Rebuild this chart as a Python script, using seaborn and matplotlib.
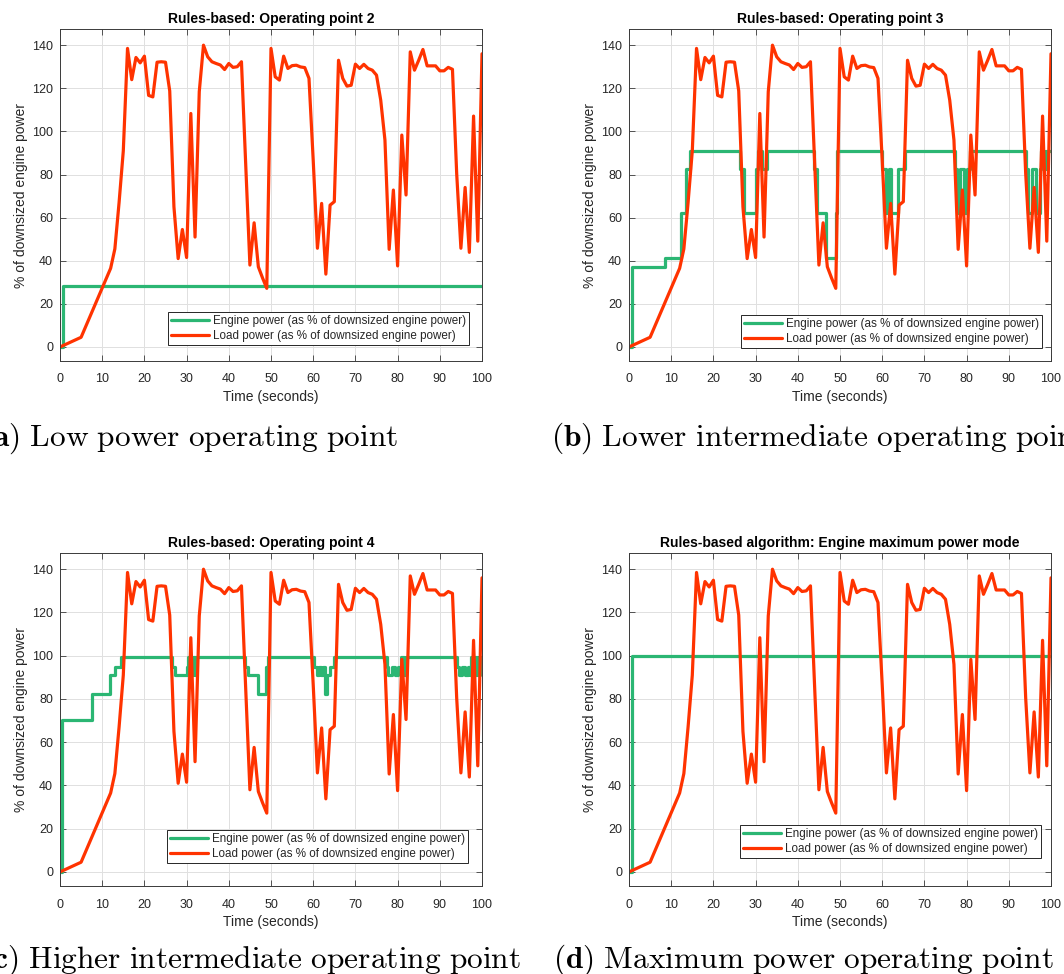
import matplotlib
matplotlib.use("Agg")
import matplotlib.pyplot as plt
import seaborn as sns
import pandas as pd

# ---------------- data ----------------
load_time = [0, 5, 12, 13, 14, 15, 16, 17, 18, 19, 20, 21, 22, 23, 24, 25, 26, 27, 28, 29,
             30, 31, 32, 33, 34, 35, 36, 37, 38, 39, 40, 41, 42, 43, 44, 45, 46, 47, 48, 49,
             50, 51, 52, 53, 54, 55, 56, 57, 58, 59, 60, 61, 62, 63, 64, 65, 66, 67, 68, 69,
             70, 71, 72, 73, 74, 75, 76, 77, 78, 79, 80, 81, 82, 83, 84, 85, 86, 87, 88, 89,
             90, 91, 92, 93, 94, 95, 96, 97, 98, 99, 100]
load_power = [0, 4.5, 36.5, 45.5, 67, 91, 138.5, 124, 134.3, 131.8, 134.9, 116.7, 116, 132.1,
              132.3, 132.1, 118.8, 65, 41, 54.5, 41.5, 108.3, 51, 118.4, 140, 134.6, 132.3,
              131.5, 130.8, 128.7, 131.5, 129.7, 130, 132.3, 85, 38, 57.6, 37.2, 32, 27.2,
              138.5, 125.3, 123.8, 134.9, 129.2, 130.5, 130.7, 129.9, 129.6, 124.6, 86.7,
              45.8, 66.6, 33.8, 65.8, 67.4, 133, 124.6, 121, 121.4, 131.2, 129.2, 131.1,
              129.2, 128.4, 126.1, 114.5, 96, 45.3, 72.8, 37.6, 98.3, 70.5, 136.9, 128.4,
              133, 138, 130.4, 130.4, 130.4, 128.1, 128.1, 129.7, 128.8, 80.5, 45.8, 74,
              43.9, 107.1, 49.1, 136]

# engine power: step change times and levels (steps-post)
eng2_time = [0, 0.7]
eng2_level = [0, 28.5]

eng3_time = [0, 0.7, 8.5, 12.3, 13.5, 14.5, 26.2, 27.2, 30.0, 30.6, 31.5, 32.6, 43.9, 44.6,
             46.8, 49.0, 49.4, 60.0, 60.8, 61.7, 62.1, 63.8, 65.3, 77.2, 77.7, 78.5, 79.5,
             80.2, 80.8, 94.1, 94.6, 95.6, 96.4, 97.3, 97.6, 98.3, 98.8]
eng3_level = [0, 37, 41.5, 62, 82.5, 91, 82.5, 62, 82.5, 91, 82.5, 91, 82.5, 62,
              41.5, 62, 91, 82.5, 62, 82.5, 62, 82.5, 91, 82.5, 62, 82.5, 62,
              82.5, 91, 82.5, 62, 82.5, 62, 82.5, 91, 82.5, 91]

eng4_time = [0, 0.55, 7.5, 11.85, 13.0, 14.4, 26.5, 27.2, 30.2, 30.4, 30.9, 31.4, 31.9, 32.3,
             43.8, 44.6, 47.0, 48.8, 49.2, 60.2, 60.8, 61.4, 61.85, 62.4, 62.8, 63.35, 64.0,
             65.0, 77.4, 77.8, 78.6, 79.3, 80.2, 80.8, 81.5, 82.1, 94.0, 94.6, 95.3, 95.9,
             96.6, 97.2, 97.5, 98.0, 98.5, 98.9, 99.5]
eng4_level = [0, 70.5, 82.5, 91, 95, 99.5, 95, 91, 95, 99.5, 91, 99.5, 91, 99.5,
              95, 91, 82.5, 95, 99.5, 95, 91, 95, 91, 95, 82.5, 91, 95,
              99.5, 95, 91, 95, 91, 95, 99.5, 91, 99.5, 95, 91, 95, 91,
              95, 91, 99.5, 91, 99.5, 91, 99.5]

engmax_time = [0, 0.7]
engmax_level = [0, 100]

titles = ["Rules-based: Operating point 2", "Rules-based: Operating point 3",
          "Rules-based: Operating point 4", "Rules-based algorithm: Engine maximum power mode"]
captions = [r"$\mathbf{(a)}\ \mathrm{Low\ power\ operating\ point}$",
            r"$\mathbf{(b)}\ \mathrm{Lower\ intermediate\ operating\ point}$",
            r"$\mathbf{(c)}\ \mathrm{Higher\ intermediate\ operating\ point}$",
            r"$\mathbf{(d)}\ \mathrm{Maximum\ power\ operating\ point}$"]
legend_labels = ["Engine power (as % of downsized engine power)",
                 "Load power (as % of downsized engine power)"]
xticks = [0, 10, 20, 30, 40, 50, 60, 70, 80, 90, 100]
yticks = [0, 20, 40, 60, 80, 100, 120, 140]

# ---------------- style ----------------
sns.set_theme(style="whitegrid")
plt.rcParams["font.family"] = ["Liberation Sans", "DejaVu Sans"]
plt.rcParams["mathtext.fontset"] = "cm"

GREEN = "#2bb673"
RED = "#ff3300"
TXT = "#262626"

W, H = 1064, 974
fig = plt.figure(figsize=(W / 100, H / 100), dpi=100)
fig.patch.set_facecolor("white")

axes_px = [(60, 29, 422, 332), (629, 29, 422, 332), (60, 553, 422, 333), (629, 553, 422, 333)]
legend_anchor = [(0.969, 0.048), (0.979, 0.039), (0.967, 0.069), (0.976, 0.084)]
engines = [(eng2_time, eng2_level), (eng3_time, eng3_level),
           (eng4_time, eng4_level), (engmax_time, engmax_level)]
caption_pos = [(-19, 446), (551, 446), (-19, 968), (553, 968)]

for i in range(4):
    l, t, w, h = axes_px[i]
    ax = fig.add_axes([l / W, 1 - (t + h) / H, w / W, h / H])
    ax.set_facecolor("white")
    et, el = engines[i]
    et_full = list(et) + [100]
    el_full = list(el) + [el[-1]]
    sns.lineplot(x=et_full, y=el_full, ax=ax, color=GREEN, lw=2.3, drawstyle="steps-post",
                 estimator=None, sort=False, label=legend_labels[0])
    sns.lineplot(x=load_time, y=load_power, ax=ax, color=RED, lw=2.3,
                 estimator=None, sort=False, label=legend_labels[1])
    ax.set_xlim(0, 100)
    ax.set_ylim(-6.5, 147.5)
    ax.set_xticks(xticks)
    ax.set_yticks(yticks)
    ax.grid(True, color="#e0e0e0", lw=0.7)
    for s in ax.spines.values():
        s.set_visible(True)
        s.set_color("#3a3a3a")
        s.set_linewidth(0.7)
    ax.tick_params(axis="both", direction="in", length=4, width=0.6, color="#3a3a3a",
                   top=True, right=True, bottom=True, left=True,
                   labelsize=9, labelcolor=TXT)
    ax.tick_params(axis="x", pad=9)
    ax.tick_params(axis="y", pad=5)
    ax.set_xlabel("Time (seconds)", fontsize=10, color=TXT, labelpad=3)
    ax.set_ylabel("% of downsized engine power", fontsize=10, color=TXT, labelpad=3)
    ax.set_title(titles[i], fontsize=10, fontweight="bold", color="black", pad=4)
    leg = ax.legend(loc="lower right", bbox_to_anchor=legend_anchor[i], fontsize=8.4,
                    handlelength=3.25, handletextpad=0.35, borderpad=0.25,
                    labelspacing=0.3, borderaxespad=0, fancybox=False, framealpha=1,
                    edgecolor="#262626")
    leg.get_frame().set_linewidth(0.7)
    for txt in leg.get_texts():
        txt.set_color(TXT)
    cx, cy = caption_pos[i]
    fig.text(cx / W, 1 - cy / H, captions[i], fontsize=22.6, ha="left", va="baseline",
             color="black")

fig.savefig("out.png", dpi=100, facecolor="white")
